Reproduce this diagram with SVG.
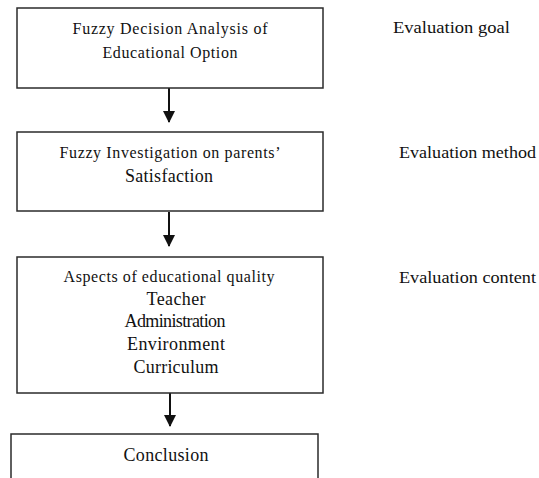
<svg xmlns="http://www.w3.org/2000/svg" width="539" height="478" viewBox="0 0 539 478">
<style>
.box{fill:#fff;stroke:#2b2b2b;stroke-width:1.5}
text{font-family:"Liberation Serif","Times New Roman",serif;fill:#111}
.t{text-anchor:middle}
.s{font-size:16px}
.l{font-size:18px}
.r{font-size:17px}
.c{stroke:#111;stroke-width:2;fill:none;marker-end:url(#ah)}
</style>
<defs>
<marker id="ah" markerWidth="12" markerHeight="12" refX="11" refY="6" orient="auto" markerUnits="userSpaceOnUse" viewBox="0 0 12 12">
<path d="M0,0 L12,6 L0,12 Z" fill="#111"/>
</marker>
</defs>
<rect width="539" height="478" fill="#fff"/>
<g id="connectors">
<line class="c" x1="169" y1="88" x2="169" y2="122"/>
<line class="c" x1="169" y1="212" x2="169" y2="246"/>
<line class="c" x1="170" y1="393" x2="170" y2="426"/>
</g>
<g id="goal">
<rect class="box" x="17" y="8" width="306" height="80"/>
<text class="t s" x="170" y="34" textLength="195" lengthAdjust="spacing">Fuzzy Decision Analysis of</text>
<text class="t s" x="170" y="58" textLength="135" lengthAdjust="spacing">Educational Option</text>
</g>
<g id="method">
<rect class="box" x="17" y="132" width="306" height="79"/>
<text class="t s" x="170" y="158" textLength="221" lengthAdjust="spacing">Fuzzy Investigation on parents’</text>
<text class="t l" x="169" y="182" textLength="88" lengthAdjust="spacing">Satisfaction</text>
</g>
<g id="content">
<rect class="box" x="17" y="257" width="306" height="136"/>
<text class="t s" x="169" y="282" textLength="211" lengthAdjust="spacing">Aspects of educational quality</text>
<text class="t l" x="176" y="305" textLength="59" lengthAdjust="spacing">Teacher</text>
<text class="t l" x="175" y="327" textLength="101" lengthAdjust="spacing">Administration</text>
<text class="t l" x="176" y="350" textLength="98" lengthAdjust="spacing">Environment</text>
<text class="t l" x="176" y="373" textLength="85" lengthAdjust="spacing">Curriculum</text>
</g>
<g id="conclusion">
<path class="box" d="M11,480 L11,434 L318,434 L318,480"/>
<text class="t l" x="166" y="461" textLength="85" lengthAdjust="spacing">Conclusion</text>
</g>
<g id="labels">
<text class="r" x="393" y="33" textLength="117" lengthAdjust="spacingAndGlyphs">Evaluation goal</text>
<text class="r" x="399" y="158" textLength="137" lengthAdjust="spacingAndGlyphs">Evaluation method</text>
<text class="r" x="399" y="283" textLength="137" lengthAdjust="spacingAndGlyphs">Evaluation content</text>
</g>
</svg>
